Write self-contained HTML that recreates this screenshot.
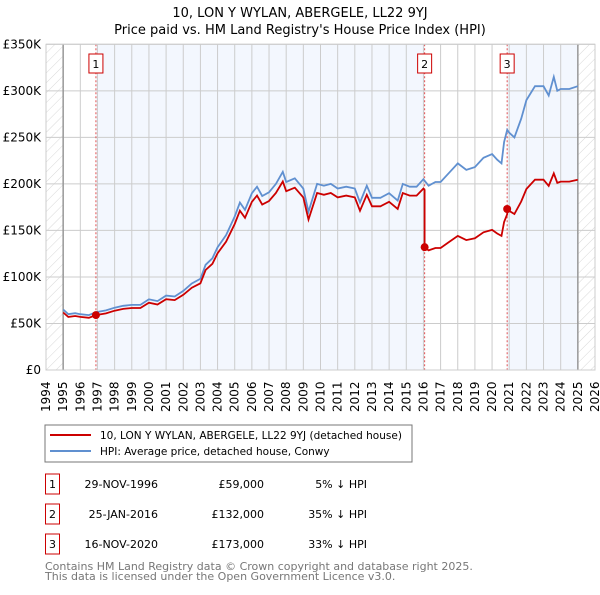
<!DOCTYPE html>
<html><head><meta charset="utf-8"><style>
body{margin:0;background:#fff;width:600px;height:590px;overflow:hidden;font-family:"Liberation Sans","DejaVu Sans",sans-serif}
svg text{font-family:"DejaVu Sans","Liberation Sans",sans-serif}
</style></head><body>
<svg id="c" width="600" height="590" xmlns="http://www.w3.org/2000/svg">
<defs><pattern id="hatch" width="7" height="7" patternUnits="userSpaceOnUse" patternTransform="rotate(45)"><line x1="0" y1="0" x2="0" y2="7" stroke="#d8d8d8" stroke-width="1"/></pattern></defs>
<text x="300" y="17" text-anchor="middle" font-size="13">10, LON Y WYLAN, ABERGELE, LL22 9YJ</text>
<text x="300" y="34" text-anchor="middle" font-size="13">Price paid vs. HM Land Registry's House Price Index (HPI)</text>
<g id="plot"></g>
<rect x="45" y="425" width="367" height="37" fill="#fff" stroke="#777"/>
<line x1="50" y1="435" x2="91" y2="435" stroke="#cc0000" stroke-width="2"/>
<text x="100" y="439" font-size="10.5">10, LON Y WYLAN, ABERGELE, LL22 9YJ (detached house)</text>
<line x1="50" y1="451" x2="91" y2="451" stroke="#6090d0" stroke-width="2"/>
<text x="100" y="455" font-size="10.5">HPI: Average price, detached house, Conwy</text>
<g id="tbl"></g>
<text x="45" y="570" font-size="11" fill="#777">Contains HM Land Registry data © Crown copyright and database right 2025.</text>
<text x="45" y="580" font-size="11" fill="#777">This data is licensed under the Open Government Licence v3.0.</text>
</svg>
<script>
const hpiYears=[1995.0,1995.3,1995.7,1996.0,1996.5,1996.9,1997.5,1998.0,1998.5,1999.0,1999.5,2000.0,2000.5,2001.0,2001.5,2002.0,2002.5,2003.0,2003.3,2003.7,2004.0,2004.5,2005.0,2005.3,2005.6,2006.0,2006.3,2006.6,2007.0,2007.4,2007.8,2008.0,2008.5,2009.0,2009.3,2009.8,2010.2,2010.6,2011.0,2011.5,2012.0,2012.3,2012.7,2013.0,2013.5,2014.0,2014.5,2014.8,2015.2,2015.6,2016.0,2016.3,2016.7,2017.0,2017.5,2018.0,2018.5,2019.0,2019.5,2020.0,2020.3,2020.55,2020.7,2020.88,2021.0,2021.3,2021.7,2022.0,2022.5,2023.0,2023.3,2023.6,2023.8,2024.0,2024.5,2025.0];
const hpiValues=[65,60,61,60,59,62,64,67,69,70,70,76,74,80,79,85,93,98,113,120,132,145,165,180,172,190,197,187,191,200,213,202,206,195,170,200,198,200,195,197,195,180,198,185,185,190,182,200,197,197,205,198,202,202,212,222,215,218,228,232,226,222,245,258,255,250,270,290,305,305,295,315,300,302,302,305];
const saleYears=[1996.91,2016.07,2020.88];
const salePrices=[59,132,173];
const saleDates=["29-NOV-1996","25-JAN-2016","16-NOV-2020"];
const salePriceLabels=["£59,000","£132,000","£173,000"];
const salePctLabels=["5% ↓ HPI","35% ↓ HPI","33% ↓ HPI"];
const yTicks=[0,50,100,150,200,250,300,350];
const yTickLabels=["£0","£50K","£100K","£150K","£200K","£250K","£300K","£350K"];
const xTicks=[1994,1995,1996,1997,1998,1999,2000,2001,2002,2003,2004,2005,2006,2007,2008,2009,2010,2011,2012,2013,2014,2015,2016,2017,2018,2019,2020,2021,2022,2023,2024,2025,2026];

const NS="http://www.w3.org/2000/svg";
const X0=46,X1=595,Y0=370,Y1=44.3;
const xs=y=>X0+(y-1994)/(2026-1994)*(X1-X0);
const ys=v=>Y0-v/350*(Y0-Y1);
const plot=document.getElementById('plot');
function mk(tag,attrs,parent){const e=document.createElementNS(NS,tag);for(const k in attrs)e.setAttribute(k,attrs[k]);(parent||plot).appendChild(e);return e;}

let e;
e=mk('rect',{x:X0,y:Y1,width:X1-X0,height:Y0-Y1,fill:'#fff'});


const bands=[[saleYears[0],saleYears[1]],[saleYears[2],2025]];
bands.forEach(b=>{e=mk('rect',{x:xs(b[0]),y:Y1,width:xs(b[1])-xs(b[0]),height:Y0-Y1,fill:'#f3f7fe'});

});
[[1994,1995],[2025,2026]].forEach(b=>{e=mk('rect',{x:xs(b[0]),y:Y1,width:xs(b[1])-xs(b[0]),height:Y0-Y1,fill:'url(#hatch)'});

});
xTicks.forEach(t=>{e=mk('line',{x1:xs(t),x2:xs(t),y1:Y1,y2:Y0,stroke:'#ccc','stroke-width':1});


e=mk('text',{x:0,y:0,'font-size':12,transform:`translate(${xs(t)+4},412) rotate(-90)`});
e.textContent=t;

});
yTicks.forEach((t,i)=>{e=mk('line',{x1:X0,x2:X1,y1:ys(t),y2:ys(t),stroke:'#ccc','stroke-width':1});


e=mk('text',{x:X0-5,y:ys(t)+4,'font-size':12,'text-anchor':'end'});
e.textContent=yTickLabels[i];

});
[1995,2025].forEach(t=>{e=mk('line',{x1:xs(t),x2:xs(t),y1:Y1,y2:Y0,stroke:'#999','stroke-width':1.5});

});
saleYears.forEach((s,i)=>{e=mk('line',{x1:xs(s),x2:xs(s),y1:Y1,y2:Y0,stroke:'#e05050','stroke-width':1,'stroke-dasharray':'2,2'});

});

const hpiPts=hpiYears.map((y,i)=>xs(y).toFixed(1)+','+ys(hpiValues[i]).toFixed(1)).join(' ');
e=mk('polyline',{points:hpiPts,fill:'none',stroke:'#6090d0','stroke-width':1.8});



function hpiAt(y){for(let i=1;i<hpiYears.length;i++){if(y<=hpiYears[i]){const f=(y-hpiYears[i-1])/(hpiYears[i]-hpiYears[i-1]);return hpiValues[i-1]+f*(hpiValues[i]-hpiValues[i-1]);}}return hpiValues[hpiValues.length-1];}
const redPts=[];
for(let k=0;k<saleYears.length;k++){
  const start=k===0?1995:saleYears[k], end=k+1<saleYears.length?saleYears[k+1]:2025;
  const r=salePrices[k]/hpiAt(saleYears[k]);
  const yrs=[start].concat(hpiYears.filter(y=>y>start&&y<end),[end]);
  yrs.forEach(y=>redPts.push(xs(y).toFixed(1)+','+ys(hpiAt(y)*r).toFixed(1)));
}
e=mk('polyline',{points:redPts.join(' '),fill:'none',stroke:'#cc0000','stroke-width':1.8});


saleYears.forEach((s,i)=>{e=mk('circle',{cx:xs(s),cy:ys(salePrices[i]),r:4,fill:'#cc0000'});


e=mk('rect',{x:xs(s)-7,y:54,width:14,height:19,fill:'#fff',stroke:'#cc0000','stroke-width':1});


e=mk('text',{x:xs(s),y:68,'font-size':11,'text-anchor':'middle'});
e.textContent=i+1;

});
e=mk('rect',{x:X0,y:Y1,width:X1-X0,height:Y0-Y1,fill:'none',stroke:'#ccc'});



const tbl=document.getElementById('tbl');
const rowY=[484,514,544];
saleYears.forEach((s,i)=>{const cy=rowY[i];
e=mk('rect',{x:45.5,y:cy-10,width:14,height:20,fill:'#fff',stroke:'#cc0000'},tbl);


e=mk('text',{x:52.5,y:cy+4,'font-size':11,'text-anchor':'middle'},tbl);e.textContent=i+1;


e=mk('text',{x:158,y:cy+4,'font-size':11,'text-anchor':'end'},tbl);e.textContent=saleDates[i];


e=mk('text',{x:264,y:cy+4,'font-size':11,'text-anchor':'end'},tbl);e.textContent=salePriceLabels[i];


e=mk('text',{x:367,y:cy+4,'font-size':11,'text-anchor':'end'},tbl);e.textContent=salePctLabels[i];

});
</script>
</body></html>
